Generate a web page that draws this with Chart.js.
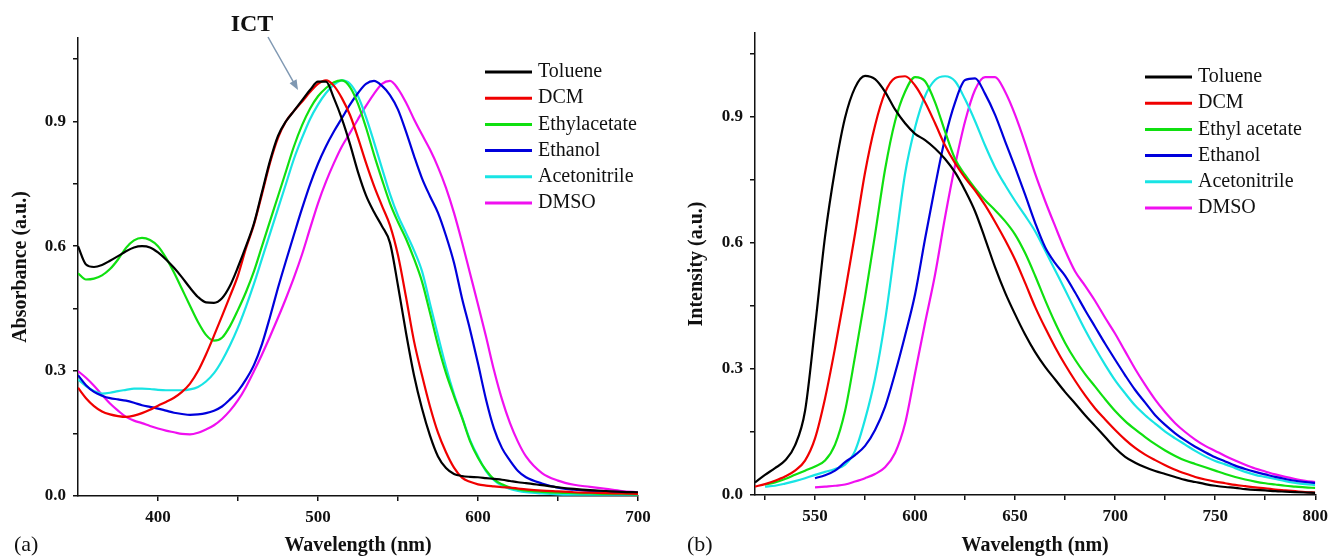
<!DOCTYPE html>
<html>
<head>
<meta charset="utf-8">
<script src="https://cdn.jsdelivr.net/npm/chart.js@4.4.0/dist/chart.umd.min.js"></script>
<style>
  html, body { margin: 0; padding: 0; background: #fff; }
  #wrap { position: relative; width: 1334px; height: 558px; }
  .panel { position: absolute; top: 0; width: 667px; height: 558px; }
</style>
</head>
<body>
<div id="wrap">
  <div class="panel" style="left:0"><canvas id="absChart" width="667" height="558"></canvas></div>
  <div class="panel" style="left:667px"><canvas id="emChart" width="667" height="558"></canvas></div>
</div>
<script>
// solvent names as they appear in each legend
const absSolvents = ["Toluene", "DCM", "Ethylacetate", "Ethanol", "Acetonitrile", "DMSO"];
const emSolvents = ["Toluene", "DCM", "Ethyl acetate", "Ethanol", "Acetonitrile", "DMSO"];
const lineColors = ["#000000", "#f00000", "#10e010", "#0000dc", "#18e4e4", "#f010f0"];

// (a) absorbance, wavelength in nm
const absNm = [350, 355, 360, 365, 370, 375, 380, 385, 390, 395, 400, 405, 410, 415, 420, 425, 430, 435, 440, 445,
  450, 455, 460, 465, 470, 475, 480, 485, 490, 495, 500, 505, 510, 515, 520, 525, 530, 535, 540, 545,
  550, 555, 560, 565, 570, 575, 580, 585, 590, 595, 600, 605, 610, 615, 620, 625, 630, 640, 650, 660,
  670, 680, 690, 700];
const absToluene = [0.600, 0.556, 0.550, 0.555, 0.565, 0.576, 0.588, 0.597, 0.600, 0.597, 0.585, 0.568, 0.548, 0.525, 0.500, 0.478, 0.465, 0.464, 0.475, 0.505,
  0.550, 0.600, 0.655, 0.730, 0.805, 0.865, 0.900, 0.925, 0.950, 0.975, 0.995, 0.995, 0.955, 0.905, 0.845, 0.778, 0.722, 0.682, 0.648, 0.608,
  0.505, 0.392, 0.290, 0.210, 0.145, 0.095, 0.067, 0.053, 0.048, 0.046, 0.045, 0.043, 0.041, 0.039, 0.036, 0.033, 0.031, 0.026, 0.021, 0.017,
  0.014, 0.012, 0.010, 0.009];
const absDCM = [0.260, 0.235, 0.216, 0.203, 0.196, 0.192, 0.190, 0.193, 0.199, 0.207, 0.217, 0.226, 0.236, 0.250, 0.270, 0.300, 0.340, 0.385, 0.432, 0.480,
  0.530, 0.595, 0.652, 0.725, 0.800, 0.860, 0.900, 0.925, 0.947, 0.970, 0.990, 0.998, 0.985, 0.955, 0.915, 0.860, 0.800, 0.745, 0.697, 0.650,
  0.578, 0.478, 0.372, 0.290, 0.215, 0.152, 0.105, 0.068, 0.044, 0.034, 0.028, 0.025, 0.023, 0.021, 0.020, 0.018, 0.016, 0.013, 0.011, 0.009,
  0.008, 0.007, 0.006, 0.005];
const absEthylacetate = [0.535, 0.520, 0.522, 0.530, 0.545, 0.568, 0.596, 0.614, 0.620, 0.615, 0.600, 0.572, 0.537, 0.497, 0.457, 0.418, 0.387, 0.373, 0.380, 0.408,
  0.447, 0.490, 0.540, 0.600, 0.660, 0.720, 0.780, 0.840, 0.890, 0.930, 0.960, 0.980, 0.994, 0.998, 0.982, 0.942, 0.885, 0.820, 0.760, 0.703,
  0.658, 0.618, 0.570, 0.515, 0.440, 0.362, 0.295, 0.240, 0.188, 0.132, 0.092, 0.062, 0.040, 0.028, 0.020, 0.016, 0.013, 0.010, 0.008, 0.007,
  0.006, 0.005, 0.005, 0.004];
const absEthanol = [0.290, 0.266, 0.250, 0.241, 0.235, 0.232, 0.229, 0.224, 0.218, 0.214, 0.210, 0.205, 0.200, 0.197, 0.195, 0.196, 0.199, 0.205, 0.215, 0.232,
  0.252, 0.280, 0.315, 0.365, 0.430, 0.500, 0.565, 0.628, 0.690, 0.748, 0.798, 0.840, 0.876, 0.908, 0.940, 0.968, 0.990, 0.997, 0.985, 0.963,
  0.928, 0.875, 0.817, 0.763, 0.720, 0.680, 0.625, 0.560, 0.475, 0.400, 0.318, 0.232, 0.162, 0.115, 0.085, 0.060, 0.045, 0.030, 0.020, 0.015,
  0.012, 0.010, 0.008, 0.007];
const absAcetonitrile = [0.280, 0.264, 0.252, 0.246, 0.248, 0.252, 0.255, 0.258, 0.258, 0.257, 0.255, 0.254, 0.254, 0.254, 0.256, 0.262, 0.275, 0.295, 0.325, 0.362,
  0.405, 0.455, 0.510, 0.570, 0.630, 0.690, 0.750, 0.810, 0.860, 0.905, 0.940, 0.968, 0.988, 0.998, 0.990, 0.960, 0.910, 0.850, 0.787, 0.725,
  0.673, 0.632, 0.590, 0.540, 0.462, 0.385, 0.310, 0.245, 0.190, 0.135, 0.095, 0.060, 0.038, 0.025, 0.017, 0.012, 0.009, 0.006, 0.004, 0.003,
  0.003, 0.003, 0.003, 0.003];
const absDMSO = [0.300, 0.284, 0.265, 0.243, 0.222, 0.205, 0.190, 0.181, 0.175, 0.168, 0.162, 0.157, 0.153, 0.149, 0.148, 0.152, 0.160, 0.170, 0.185, 0.205,
  0.230, 0.262, 0.300, 0.340, 0.383, 0.428, 0.475, 0.525, 0.580, 0.642, 0.703, 0.755, 0.800, 0.840, 0.872, 0.905, 0.937, 0.966, 0.990, 0.997,
  0.978, 0.945, 0.905, 0.868, 0.832, 0.790, 0.740, 0.680, 0.610, 0.535, 0.460, 0.383, 0.302, 0.232, 0.175, 0.130, 0.095, 0.055, 0.037, 0.027,
  0.022, 0.017, 0.012, 0.009];

// (b) emission, wavelength in nm (null = not recorded)
const emNm = [520, 525, 530, 535, 540, 545, 550, 555, 560, 565, 570, 575, 580, 585, 590, 595, 600, 605, 610, 615,
  620, 625, 630, 635, 640, 645, 650, 655, 660, 665, 670, 675, 680, 685, 690, 695, 700, 705, 710, 715,
  720, 725, 730, 735, 740, 745, 750, 755, 760, 765, 770, 775, 780, 785, 790, 795, 800];
const emToluene = [0.030, 0.048, 0.064, 0.082, 0.118, 0.200, 0.400, 0.615, 0.775, 0.898, 0.970, 0.998, 0.990, 0.960, 0.918, 0.885, 0.860, 0.845, 0.825, 0.800,
  0.768, 0.725, 0.675, 0.610, 0.542, 0.482, 0.430, 0.382, 0.340, 0.305, 0.275, 0.245, 0.218, 0.190, 0.164, 0.138, 0.112, 0.091, 0.077, 0.066,
  0.057, 0.050, 0.043, 0.036, 0.031, 0.026, 0.022, 0.019, 0.017, 0.014, 0.012, 0.011, 0.009, 0.008, 0.007, 0.006, 0.005];
const emDCM = [0.020, 0.026, 0.034, 0.044, 0.058, 0.082, 0.135, 0.230, 0.350, 0.482, 0.622, 0.768, 0.880, 0.958, 0.993, 0.997, 0.975, 0.935, 0.885, 0.832,
  0.790, 0.755, 0.725, 0.690, 0.650, 0.607, 0.560, 0.505, 0.448, 0.398, 0.352, 0.310, 0.272, 0.237, 0.206, 0.180, 0.155, 0.132, 0.112, 0.096,
  0.083, 0.071, 0.060, 0.051, 0.043, 0.037, 0.032, 0.028, 0.024, 0.021, 0.018, 0.016, 0.013, 0.011, 0.009, 0.007, 0.006];
const emEthylacetate = [null, 0.025, 0.030, 0.038, 0.048, 0.058, 0.068, 0.082, 0.120, 0.200, 0.330, 0.470, 0.620, 0.775, 0.890, 0.960, 0.995, 0.985, 0.935, 0.865,
  0.800, 0.762, 0.730, 0.702, 0.678, 0.652, 0.620, 0.576, 0.522, 0.464, 0.410, 0.362, 0.322, 0.288, 0.258, 0.228, 0.200, 0.176, 0.156, 0.138,
  0.121, 0.106, 0.093, 0.082, 0.074, 0.066, 0.058, 0.050, 0.043, 0.037, 0.032, 0.028, 0.025, 0.022, 0.020, 0.018, 0.017];
const emEthanol = [null, null, null, null, null, null, 0.040, 0.047, 0.058, 0.078, 0.095, 0.117, 0.155, 0.210, 0.290, 0.380, 0.478, 0.610, 0.735, 0.850,
  0.935, 0.988, 0.992, 0.955, 0.905, 0.842, 0.780, 0.715, 0.648, 0.590, 0.552, 0.522, 0.482, 0.440, 0.400, 0.360, 0.322, 0.285, 0.250, 0.220,
  0.190, 0.167, 0.147, 0.130, 0.115, 0.102, 0.090, 0.080, 0.070, 0.062, 0.055, 0.049, 0.043, 0.038, 0.034, 0.031, 0.029];
const emAcetonitrile = [null, 0.020, 0.022, 0.027, 0.033, 0.040, 0.048, 0.055, 0.062, 0.072, 0.105, 0.180, 0.278, 0.415, 0.590, 0.765, 0.875, 0.950, 0.988, 0.997,
  0.985, 0.942, 0.890, 0.832, 0.780, 0.738, 0.700, 0.665, 0.628, 0.582, 0.535, 0.488, 0.440, 0.393, 0.350, 0.310, 0.273, 0.242, 0.213, 0.190,
  0.170, 0.151, 0.135, 0.120, 0.105, 0.092, 0.081, 0.073, 0.064, 0.055, 0.048, 0.043, 0.038, 0.033, 0.029, 0.026, 0.024];
const emDMSO = [null, null, null, null, null, null, 0.018, 0.020, 0.022, 0.025, 0.032, 0.040, 0.050, 0.066, 0.100, 0.170, 0.290, 0.410, 0.525, 0.662,
  0.785, 0.890, 0.965, 0.995, 0.995, 0.960, 0.905, 0.838, 0.765, 0.700, 0.640, 0.582, 0.532, 0.498, 0.462, 0.422, 0.384, 0.342, 0.300, 0.262,
  0.227, 0.197, 0.171, 0.150, 0.132, 0.117, 0.105, 0.093, 0.082, 0.072, 0.063, 0.056, 0.049, 0.043, 0.038, 0.034, 0.031];

// tick positions
const absXTicks = [400, 450, 500, 550, 600, 650, 700];
const emXTicks = [525, 550, 575, 600, 625, 650, 675, 700, 725, 750, 775, 800];
const yTicks = [0, 0.15, 0.3, 0.45, 0.6, 0.75, 0.9, 1.05];

const serif = "'Liberation Serif', 'Times New Roman', serif";
Chart.defaults.font.family = serif;
Chart.defaults.color = "#111";

function toPoints(xs, ys) {
  const pts = [];
  xs.forEach((x, i) => { if (ys[i] !== null) pts.push({ x: x, y: ys[i] }); });
  return pts;
}

function makeDatasets(labels, xs, series) {
  return series.map((ys, i) => ({
    label: labels[i],
    data: toPoints(xs, ys),
    borderColor: lineColors[i],
    borderWidth: 2.2,
    pointRadius: 0,
    cubicInterpolationMode: "monotone",
    fill: false,
  }));
}

// legend, panel tag and ICT arrow
const figureExtras = {
  id: "figureExtras",
  afterDraw(chart, args, opts) {
    const ctx = chart.ctx;
    ctx.save();
    ctx.textBaseline = "middle";
    ctx.textAlign = "left";
    ctx.font = "20px " + serif;
    chart.data.datasets.forEach((ds, i) => {
      const y = opts.legendY + i * 26.2;
      ctx.strokeStyle = ds.borderColor;
      ctx.lineWidth = 3;
      ctx.beginPath();
      ctx.moveTo(opts.legendX, y);
      ctx.lineTo(opts.legendX + 47, y);
      ctx.stroke();
      ctx.fillStyle = "#111";
      ctx.fillText(ds.label, opts.legendX + 53, y);
    });

    ctx.font = "22px " + serif;
    ctx.fillStyle = "#111";
    ctx.fillText(opts.tag, opts.tagX, opts.tagY);

    if (opts.note) {
      const tx = chart.scales.x.getPixelForValue(opts.note.at[0]);
      const ty = chart.scales.y.getPixelForValue(opts.note.at[1]);
      const sx = opts.note.from[0], sy = opts.note.from[1];
      ctx.font = "bold 24px " + serif;
      ctx.textAlign = "center";
      ctx.fillText(opts.note.text, opts.note.textX, opts.note.textY);
      ctx.strokeStyle = "#7f98b2";
      ctx.fillStyle = "#7f98b2";
      ctx.lineWidth = 1.5;
      const ang = Math.atan2(ty - sy, tx - sx);
      ctx.beginPath();
      ctx.moveTo(sx, sy);
      ctx.lineTo(tx - 8 * Math.cos(ang), ty - 8 * Math.sin(ang));
      ctx.stroke();
      ctx.beginPath();
      ctx.moveTo(tx, ty);
      ctx.lineTo(tx - 10 * Math.cos(ang) + 4 * Math.sin(ang), ty - 10 * Math.sin(ang) - 4 * Math.cos(ang));
      ctx.lineTo(tx - 10 * Math.cos(ang) - 4 * Math.sin(ang), ty - 10 * Math.sin(ang) + 4 * Math.cos(ang));
      ctx.closePath();
      ctx.fill();
    }
    ctx.restore();
  }
};

function axisStyle() {
  return {
    grid: { display: true, drawOnChartArea: false, drawTicks: true, tickLength: 5, color: "#111", lineWidth: 1.5 },
    border: { display: true, color: "#111", width: 1.5 },
  };
}

function buildChart(canvasId, cfg) {
  const xAxis = Object.assign(axisStyle(), {
    type: "linear",
    min: cfg.xMin,
    max: cfg.xMax,
    bounds: "data",
    afterBuildTicks: (s) => { s.ticks = cfg.xTicks.map((v) => ({ value: v })); },
    afterFit: (s) => { s.height = cfg.xHeight; },
    ticks: {
      padding: 6,
      font: { size: 17, weight: "bold" },
      callback: (v) => (v % cfg.xLabelEvery === 0 ? v : ""),
    },
    title: {
      display: true,
      text: "Wavelength (nm)",
      font: { size: 20, weight: "bold" },
      padding: { top: 0, bottom: 0 },
    },
  });
  const yAxis = Object.assign(axisStyle(), {
    type: "linear",
    min: 0,
    max: 1.1,
    bounds: "data",
    afterBuildTicks: (s) => { s.ticks = yTicks.map((v) => ({ value: v })); },
    afterFit: (s) => { s.width = cfg.yWidth; },
    ticks: {
      padding: 7,
      font: { size: 17, weight: "bold" },
      callback: (v) => (Math.round(v * 100) % 30 === 0 ? v.toFixed(1) : ""),
    },
    title: {
      display: true,
      text: cfg.yTitle,
      font: { size: 20, weight: "bold" },
      padding: { top: cfg.yTitlePad, bottom: 0 },
    },
  });

  return new Chart(document.getElementById(canvasId), {
    type: "line",
    data: { datasets: cfg.datasets },
    options: {
      responsive: false,
      animation: false,
      devicePixelRatio: 1,
      layout: { padding: { top: cfg.top, right: cfg.right, left: 0, bottom: 0 } },
      scales: { x: xAxis, y: yAxis },
      plugins: {
        legend: { display: false },
        tooltip: { enabled: false },
        figureExtras: cfg.extras,
      },
    },
    plugins: [figureExtras],
  });
}

let absChart = buildChart("absChart", {
  datasets: makeDatasets(absSolvents, absNm,
    [absToluene, absDCM, absEthylacetate, absEthanol, absAcetonitrile, absDMSO]),
  xMin: 350, xMax: 700, xTicks: absXTicks, xLabelEvery: 100,
  xHeight: 62, yWidth: 78, top: 38, right: 29,
  yTitle: "Absorbance (a.u.)", yTitlePad: 9,
  extras: {
    legendX: 485, legendY: 72, tag: "(a)", tagX: 14, tagY: 545,
    note: { text: "ICT", textX: 252, textY: 25, from: [268, 37], at: [487.5, 0.975] },
  },
});

let emChart = buildChart("emChart", {
  datasets: makeDatasets(emSolvents, emNm,
    [emToluene, emDCM, emEthylacetate, emEthanol, emAcetonitrile, emDMSO]),
  xMin: 520, xMax: 800, xTicks: emXTicks, xLabelEvery: 50,
  xHeight: 63, yWidth: 88, top: 33, right: 13,
  yTitle: "Intensity (a.u.)", yTitlePad: 18,
  extras: { legendX: 478, legendY: 77, tag: "(b)", tagX: 20, tagY: 545 },
});
</script>
</body>
</html>
